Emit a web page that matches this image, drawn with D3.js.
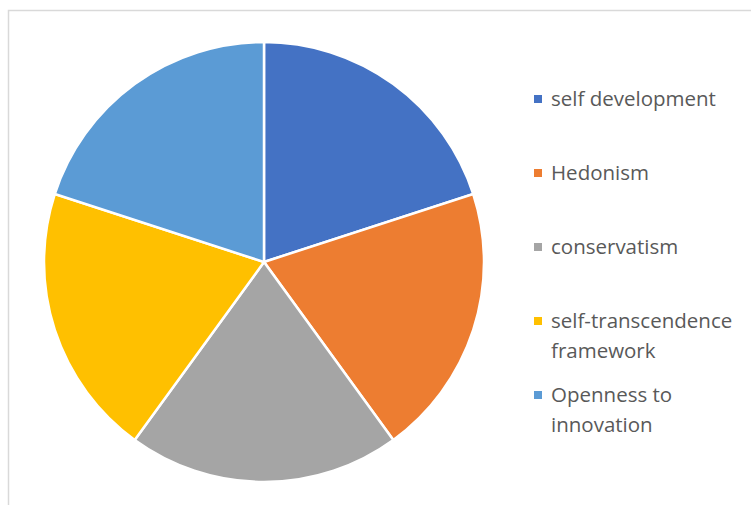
<!DOCTYPE html>
<html>
<head>
<meta charset="utf-8">
<script src="https://cdn.jsdelivr.net/npm/d3@7"></script>
<style>
  body { margin: 0; background: #fff; }
</style>
</head>
<body>
<div id="chart"></div>
<script>
var categories = ["self development", "Hedonism", "conservatism", "self-transcendence framework", "Openness to innovation"];
var legendLines = [["self development"], ["Hedonism"], ["conservatism"], ["self-transcendence", "framework"], ["Openness to", "innovation"]];
var values = [20, 20, 20, 20, 20];
var colors = ["#4472C4", "#ED7D31", "#A5A5A5", "#FFC000", "#5B9BD5"];

var w = 751, h = 505;

var svg = d3.select("#chart")
    .append("svg")
    .attr("width", w)
    .attr("height", h);

// chart frame
svg.append("rect")
    .attr("x", 8.5)
    .attr("y", 10.5)
    .attr("width", 800)
    .attr("height", 600)
    .attr("fill", "white")
    .attr("stroke", "#d9d9d9")
    .attr("stroke-width", 1.5);

var data = categories.map(function(c, i){ return {name: c, value: values[i], lines: legendLines[i]}; });

var color = d3.scaleOrdinal().domain(categories).range(colors);

var pie = d3.pie().sort(null).value(function(d){ return d.value; });
var arc = d3.arc().innerRadius(0).outerRadius(220);

var g = svg.append("g").attr("transform", "translate(264,262)");

g.selectAll("path")
    .data(pie(data))
    .enter()
    .append("path")
    .attr("d", arc)
    .attr("fill", function(d){ return color(d.data.name); })
    .attr("stroke", "white")
    .attr("stroke-width", 2.5);

// legend
var legendY = d3.scalePoint().domain(categories).range([99, 395]);

var item = svg.selectAll("g.legend")
    .data(data)
    .enter()
    .append("g")
    .attr("class", "legend")
    .attr("transform", function(d){ return "translate(534," + legendY(d.name) + ")"; });

item.append("rect")
    .attr("x", 0)
    .attr("y", -4)
    .attr("width", 8)
    .attr("height", 8)
    .attr("fill", function(d){ return color(d.name); });

item.append("text")
    .attr("x", 17)
    .attr("y", 0)
    .attr("font-family", "Open Sans, sans-serif")
    .attr("font-size", 20.5)
    .attr("fill", "#595959")
    .selectAll("tspan")
    .data(function(d){ return d.lines; })
    .enter()
    .append("tspan")
    .attr("x", 17)
    .attr("dy", function(d, i){ return i == 0 ? "0.35em" : 30; })
    .text(function(d){ return d; });
</script>
</body>
</html>
